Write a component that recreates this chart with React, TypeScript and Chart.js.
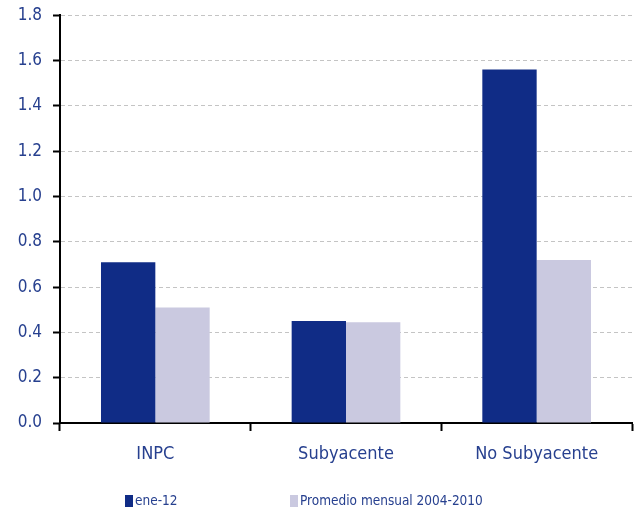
import React, { useEffect, useRef } from "react";
import { Chart, registerables } from "chart.js";

Chart.register(...registerables);

const categories = ["INPC", "Subyacente", "No Subyacente"];
const seriesNames = ["ene-12", "Promedio mensual 2004-2010"];
const ene12 = [0.71, 0.45, 1.56];
const promedio = [0.51, 0.445, 0.72];
const yTicks = [0, 0.2, 0.4, 0.6, 0.8, 1.0, 1.2, 1.4, 1.6, 1.8];

const DARK = "#102C86";
const LIGHT = "#CAC9E0";
const TEXT = "#27408F";
const FONT = "'Liberation Sans Narrow', 'DejaVu Sans Condensed', 'Liberation Sans', sans-serif";

const legendPlugin = {
  id: "customLegend",
  afterDraw(chart: any) {
    const ctx = chart.ctx;
    const xs = [125, 290];
    const y = 501;
    ctx.save();
    ctx.font = `13.5px ${FONT}`;
    ctx.textBaseline = "middle";
    ctx.textAlign = "left";
    chart.data.datasets.forEach((ds: any, i: number) => {
      ctx.fillStyle = ds.backgroundColor;
      ctx.fillRect(xs[i], y - 6, 8, 12);
      ctx.fillStyle = TEXT;
      ctx.fillText(ds.label, xs[i] + 10, y);
    });
    ctx.restore();
  },
};

export default function App() {
  const ref = useRef<HTMLCanvasElement>(null);
  useEffect(() => {
    if (!ref.current) return;
    const chart = new Chart(ref.current, {
      type: "bar",
      data: {
        labels: categories,
        datasets: [
          { label: seriesNames[0], data: ene12, backgroundColor: DARK },
          { label: seriesNames[1], data: promedio, backgroundColor: LIGHT },
        ],
      },
      plugins: [legendPlugin],
      options: {
        animation: false,
        responsive: false,
        maintainAspectRatio: false,
        layout: { padding: { top: 14, right: 5, left: 0, bottom: 0 } },
        plugins: { legend: { display: false }, tooltip: { enabled: false } },
        datasets: { bar: { categoryPercentage: 0.57, barPercentage: 1.0 } },
        scales: {
          x: {
            grid: {
              display: true,
              offset: true,
              drawOnChartArea: false,
              drawTicks: true,
              tickLength: 8,
              tickColor: "#000",
              tickWidth: 2,
            },
            border: { display: true, color: "#000", width: 2 },
            ticks: { color: TEXT, font: { family: FONT, size: 18 }, padding: 13 },
            afterFit: (s: any) => { s.height = 92; },
          },
          y: {
            min: 0,
            max: 1.8,
            afterBuildTicks: (s: any) => { s.ticks = yTicks.map((v) => ({ value: v })); },
            grid: {
              color: "#C4C4C4",
              lineWidth: 1,
              tickLength: 7,
              tickColor: "#000",
              tickWidth: 2,
            },
            border: { display: true, color: "#000", width: 2, dash: [4, 3] },
            ticks: {
              color: TEXT,
              font: { family: FONT, size: 17, lineHeight: 0.5 },
              padding: 11,
              callback: (v: any) => Number(v).toFixed(1),
            },
            afterFit: (s: any) => { s.width = 60; },
          },
        },
      },
    });
    return () => chart.destroy();
  }, []);
  return (
    <div style={{ position: "fixed", left: 0, top: 0, width: 637, height: 515, background: "#fff" }}>
      <canvas ref={ref} width={637} height={515} style={{ width: 637, height: 515 }} />
    </div>
  );
}
